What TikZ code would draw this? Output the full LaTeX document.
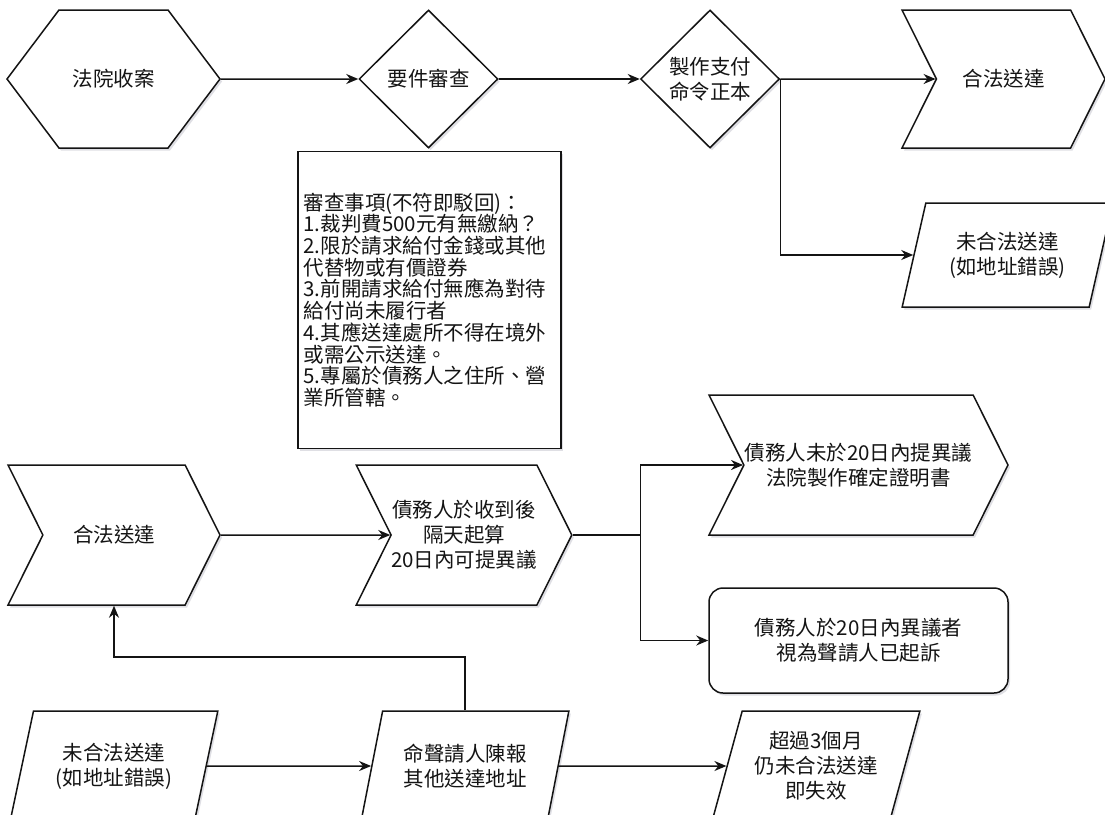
\documentclass[tikz,border=0pt]{standalone}
\usepackage{fontspec}
\newfontfamily\cjk{Noto Sans CJK TC}
\usetikzlibrary{positioning,calc,shapes.geometric,shapes.symbols,arrows.meta,shadows}
\definecolor{Ink}{HTML}{141414}
\definecolor{Paper}{HTML}{FFFFFF}
\definecolor{Shade}{HTML}{A4A4B4}

\begin{document}
\begin{tikzpicture}[x=1pt,y=-1pt,every node/.style={text=Ink,font=\cjk\fontsize{20.5}{25}\selectfont},softshadow/.style={drop shadow={shadow xshift=2pt,shadow yshift=-2.5pt,opacity=0.35,fill=Shade}},box/.style={draw=Ink,line width=1.5pt,fill=Paper,softshadow,inner sep=0pt,align=center},hexbox/.style={box,shape=signal,signal to=east and west,signal pointer angle=106,minimum width=213pt,minimum height=138pt},decision/.style={box,shape=diamond,minimum width=139pt,minimum height=138pt},chevron/.style={box,shape=signal,signal from=west,signal to=east,signal pointer angle=127,minimum width=212pt,minimum height=140pt},slanted/.style={box,shape=trapezium,trapezium left angle=70,trapezium right angle=110,trapezium stretches=true,minimum width=208pt,minimum height=110pt},roundbox/.style={box,rounded corners=14pt,minimum width=299pt,minimum height=105pt},notebox/.style={box,minimum width=263pt,minimum height=297pt,text width=252pt,align=left,font=\cjk\fontsize{20.5}{21.7}\selectfont},wire/.style={draw=Ink,line width=1.5pt},link/.style={wire,-{Stealth[length=12pt,width=10pt]}}]
\useasboundingbox (0,0) rectangle (1105,814);
\fill[Paper] (0,0) rectangle (1105,814);
% top row
\node[hexbox] (intake) at (113.5,79) {法院收案};
\node[decision] (review) at (428.5,79) {要件審查};
\node[decision] (issue) at (710,79) {製作支付\\命令正本};
\node[chevron,minimum width=203pt,minimum height=138pt] (servedtop) at (1003.5,79) {合法送達};
\node[slanted,minimum width=211pt,minimum height=104pt] (failtop) at (1007.5,255) {未合法送達\\(如地址錯誤)};
\node[notebox] (checklist) at (429.5,300) {審查事項(不符即駁回)：\\1.裁判費500元有無繳納？\\2.限於請求給付金錢或其他\\代替物或有價證券\\3.前開請求給付無應為對待\\給付尚未履行者\\4.其應送達處所不得在境外\\或需公示送達。\\5.專屬於債務人之住所、營\\業所管轄。};
% middle row
\node[chevron] (served) at (114,535) {合法送達};
\node[chevron] (objection) at (464,535) {債務人於收到後\\隔天起算\\20日內可提異議};
\node[chevron,minimum width=299pt] (noobjection) at (858.5,465) {債務人未於20日內提異議\\法院製作確定證明書};
\node[roundbox] (sued) at (858.5,640.5) {債務人於20日內異議者\\視為聲請人已起訴};
% bottom row
\node[slanted] (failbottom) at (114,766) {未合法送達\\(如地址錯誤)};
\node[slanted] (newaddress) at (465,766) {命聲請人陳報\\其他送達地址};
\node[slanted] (expire) at (816,766) {超過3個月\\仍未合法送達\\即失效};
\coordinate[right=68pt of objection.east] (fork);
\draw[link] (intake) -- (review);
\draw[link] (review) -- (issue);
\draw[link] (issue) -- (servedtop);
\draw[link] (issue.east) |- (failtop);
\draw[link] (served) -- (objection);
\draw[wire] (objection.east) -- (fork);
\draw[link] (fork) |- (noobjection);
\draw[link] (fork) |- (sued);
\draw[link] (failbottom) -- (newaddress);
\draw[link] (newaddress) -- (expire);
\draw[link] (newaddress.north) -- ++(0,-53) -| (served.south);
\end{tikzpicture}
\end{document}
